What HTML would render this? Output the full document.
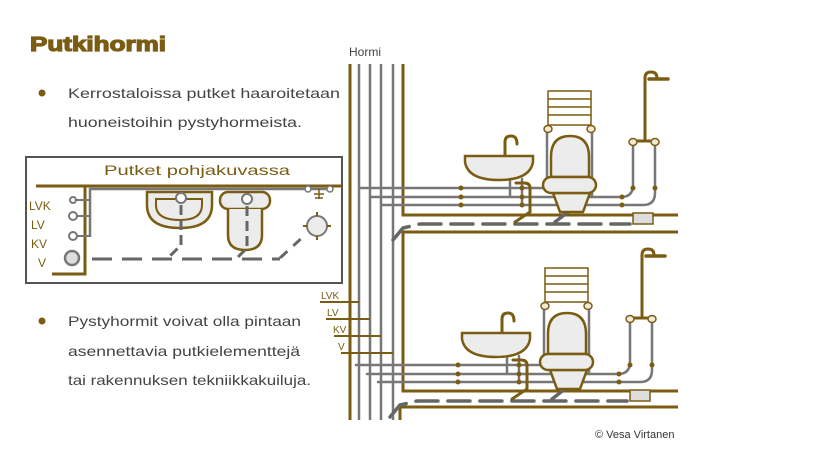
<!DOCTYPE html>
<html><head><meta charset="utf-8"><style>
body{margin:0;background:#fff}
svg{display:block}
text{font-family:"Liberation Sans",sans-serif}
</style></head><body>
<svg width="825" height="450" viewBox="0 0 825 450" xmlns="http://www.w3.org/2000/svg">
<defs>
<g id="floor" fill="none" stroke-linecap="round">
  <!-- branch pipes -->
  <path d="M359 188 H547 V130" stroke="#777" stroke-width="2.5"/>
  <path d="M370 197 H621 Q633 197 633 185 V145" stroke="#777" stroke-width="2.5"/>
  <path d="M381 205 H643 Q655 205 655 193 V145" stroke="#777" stroke-width="2.5"/>
  <path d="M592 197 V130" stroke="#777" stroke-width="2.5"/>
  <path d="M510 179 V197 M522 179 V205" stroke="#777" stroke-width="2.5"/>
  <!-- dashed drain -->
  <path d="M393 240 L403 228 L420 224 H630" stroke="#666" stroke-width="3.5" stroke-dasharray="22,10"/>
  <path d="M515 222 L530 212 V188 Q530 183 524 183 H516" stroke="#7a5c12" stroke-width="3"/>
  <path d="M555 222 L568 212" stroke="#666" stroke-width="3.5"/>
  <!-- dots -->
  <g fill="#7a5c12" stroke="none">
    <circle cx="461" cy="188" r="2.5"/><circle cx="461" cy="197" r="2.5"/><circle cx="461" cy="205" r="2.5"/>
    <circle cx="522" cy="188" r="2.5"/><circle cx="522" cy="197" r="2.5"/><circle cx="522" cy="205" r="2.5"/>
    <circle cx="622" cy="197" r="2.5"/><circle cx="622" cy="205" r="2.5"/>
    <circle cx="633" cy="188" r="2.5"/><circle cx="655" cy="188" r="2.5"/>
  </g>
  <!-- sink -->
  <path d="M505 156 V142 Q505 136 511 136 Q517 136 517 144" stroke="#7a5c12" stroke-width="3"/>
  <path d="M465 156 H533 V162 Q530 180 499 180 Q468 180 465 162 Z" fill="#ececec" stroke="#7a5c12" stroke-width="2.5"/>
  <!-- radiator -->
  <rect x="548" y="91" width="43" height="34" fill="#fff" stroke="#7a5c12" stroke-width="1.5"/>
  <path d="M548 99 H591 M548 107 H591 M548 115 H591" stroke="#7a5c12" stroke-width="1.5"/>
  <ellipse cx="548" cy="129" rx="4" ry="3.5" fill="#f3ead6" stroke="#7a5c12" stroke-width="1.5"/>
  <ellipse cx="591" cy="129" rx="4" ry="3.5" fill="#f3ead6" stroke="#7a5c12" stroke-width="1.5"/>
  <!-- toilet -->
  <path d="M553 193 H590 L583 212 H560 Z" fill="#ececec" stroke="#7a5c12" stroke-width="2.5"/>
  <path d="M551 177 V157 Q551 136 570 136 Q589 136 589 157 V177 Z" fill="#ececec" stroke="#7a5c12" stroke-width="2.5"/>
  <rect x="543" y="177" width="53" height="16" rx="8" fill="#ececec" stroke="#7a5c12" stroke-width="2.5"/>
  <!-- shower -->
  <path d="M645 141 V78 Q645 72 651 72 Q657 72 657 78" stroke="#7a5c12" stroke-width="3"/>
  <path d="M649 79 H668" stroke="#7a5c12" stroke-width="3.5"/>
  <path d="M633 141 H655" stroke="#7a5c12" stroke-width="3"/>
  <ellipse cx="633" cy="142" rx="4" ry="3.5" fill="#f3ead6" stroke="#7a5c12" stroke-width="1.5"/>
  <ellipse cx="655" cy="142" rx="4" ry="3.5" fill="#f3ead6" stroke="#7a5c12" stroke-width="1.5"/>
  <rect x="633" y="213" width="20" height="11" fill="#ddd" stroke="#7a5c12" stroke-width="1.5"/>
</g>
</defs>

<text x="30" y="51" font-size="20" font-weight="bold" fill="#7a5c12" textLength="136" lengthAdjust="spacingAndGlyphs" stroke="#7a5c12" stroke-width="1.2">Putkihormi</text>

<circle cx="42" cy="93" r="3.5" fill="#7a5c12"/>
<text x="68" y="98" font-size="14" fill="#444" textLength="272" lengthAdjust="spacingAndGlyphs">Kerrostaloissa putket haaroitetaan</text>
<text x="68" y="127" font-size="14" fill="#444" textLength="234" lengthAdjust="spacingAndGlyphs">huoneistoihin pystyhormeista.</text>

<circle cx="42" cy="321" r="3.5" fill="#7a5c12"/>
<text x="68" y="326" font-size="14" fill="#444" textLength="233" lengthAdjust="spacingAndGlyphs">Pystyhormit voivat olla pintaan</text>
<text x="68" y="356" font-size="14" fill="#444" textLength="232" lengthAdjust="spacingAndGlyphs">asennettavia putkielementtejä</text>
<text x="68" y="385" font-size="14" fill="#444" textLength="243" lengthAdjust="spacingAndGlyphs">tai rakennuksen tekniikkakuiluja.</text>

<!-- plan box -->
<rect x="26" y="157" width="316" height="126" fill="#fff" stroke="#555" stroke-width="2"/>
<text x="104" y="175" font-size="14" fill="#7a5c12" textLength="186" lengthAdjust="spacingAndGlyphs">Putket pohjakuvassa</text>
<g fill="none">
  <path d="M36 186 H341" stroke="#7a5c12" stroke-width="3"/>
  <path d="M85 186 V274 H52" stroke="#7a5c12" stroke-width="3"/>
  <path d="M90 237 V189 H330" stroke="#777" stroke-width="2.5"/>
  <path d="M76 200 H90 M77 216 H90 M77 236 H90" stroke="#777" stroke-width="2"/>
  <circle cx="73" cy="200" r="3" fill="#fff" stroke="#777" stroke-width="2"/>
  <circle cx="73" cy="216" r="4" fill="#fff" stroke="#777" stroke-width="2"/>
  <circle cx="73" cy="236" r="4" fill="#fff" stroke="#777" stroke-width="2"/>
  <circle cx="72" cy="258" r="7" fill="#ddd" stroke="#777" stroke-width="2.5"/>
  <path d="M92 259 H280" stroke="#666" stroke-width="3" stroke-dasharray="20,10"/>
  <path d="M280 258 L305 235" stroke="#666" stroke-width="3" stroke-dasharray="10,8"/>
  <path d="M147 192 H212 V205 Q212 228 180 228 Q147 228 147 205 Z" fill="#ececec" stroke="#7a5c12" stroke-width="2.5"/>
  <path d="M156 199 H202 V205 Q202 220 180 220 Q156 220 156 205 Z" fill="none" stroke="#7a5c12" stroke-width="2"/>
  <circle cx="181" cy="198" r="5" fill="#fff" stroke="#777" stroke-width="2"/>
  <path d="M181 205 V245 L170 256" stroke="#666" stroke-width="3" stroke-dasharray="10,5"/>
  <rect x="220" y="192" width="50" height="17" rx="8" fill="#ececec" stroke="#7a5c12" stroke-width="2.5"/>
  <path d="M228 209 V235 Q228 250 245 250 Q262 250 262 235 V209" fill="#ececec" stroke="#7a5c12" stroke-width="2.5"/>
  <circle cx="247" cy="199" r="5" fill="#fff" stroke="#777" stroke-width="2"/>
  <path d="M247 206 V248 L238 257" stroke="#666" stroke-width="3" stroke-dasharray="10,5"/>
  <circle cx="308" cy="189" r="3" fill="#fff" stroke="#777" stroke-width="1.5"/>
  <circle cx="330" cy="189" r="3" fill="#fff" stroke="#777" stroke-width="1.5"/>
  <path d="M319 189 V199 M314 194 H324 M315 198 H323" stroke="#7a5c12" stroke-width="1.5"/>
  <circle cx="317" cy="226" r="10" fill="#ececec" stroke="#777" stroke-width="2"/>
  <path d="M317 212 V216 M317 236 V240 M303 226 H307 M327 226 H331" stroke="#7a5c12" stroke-width="2"/>
</g>
<g font-size="12" fill="#7a5c12">
  <text x="29" y="210">LVK</text><text x="31" y="229">LV</text><text x="31" y="248">KV</text><text x="38" y="267">V</text>
</g>

<!-- hormi -->
<text x="349" y="56" font-size="12" fill="#444">Hormi</text>
<g fill="none">
  <path d="M350 64 V420" stroke="#7a5c12" stroke-width="3"/>
  <path d="M359 64 V420 M370 64 V420 M381 64 V420 M393 64 V420" stroke="#777" stroke-width="2.5"/>
  <path d="M403 64 V215 H678" stroke="#7a5c12" stroke-width="3"/>
  <path d="M678 232 H403 V391 H678" stroke="#7a5c12" stroke-width="3"/>
  <path d="M678 407 H400 V420" stroke="#7a5c12" stroke-width="3"/>
</g>
<use href="#floor"/>
<use href="#floor" transform="translate(-3,177)"/>
<g fill="none" stroke-width="2">
  <path d="M320 302 H359" stroke="#7a5c12"/>
  <path d="M326 319 H370" stroke="#7a5c12"/>
  <path d="M334 336 H381" stroke="#7a5c12"/>
  <path d="M341 353 H393" stroke="#7a5c12"/>
</g>
<g font-size="10" fill="#7a5c12">
  <text x="321" y="299">LVK</text><text x="327" y="316">LV</text><text x="333" y="333">KV</text><text x="338" y="350">V</text>
</g>
<text x="595" y="438" font-size="11" fill="#333">© Vesa Virtanen</text>
</svg>
</body></html>
